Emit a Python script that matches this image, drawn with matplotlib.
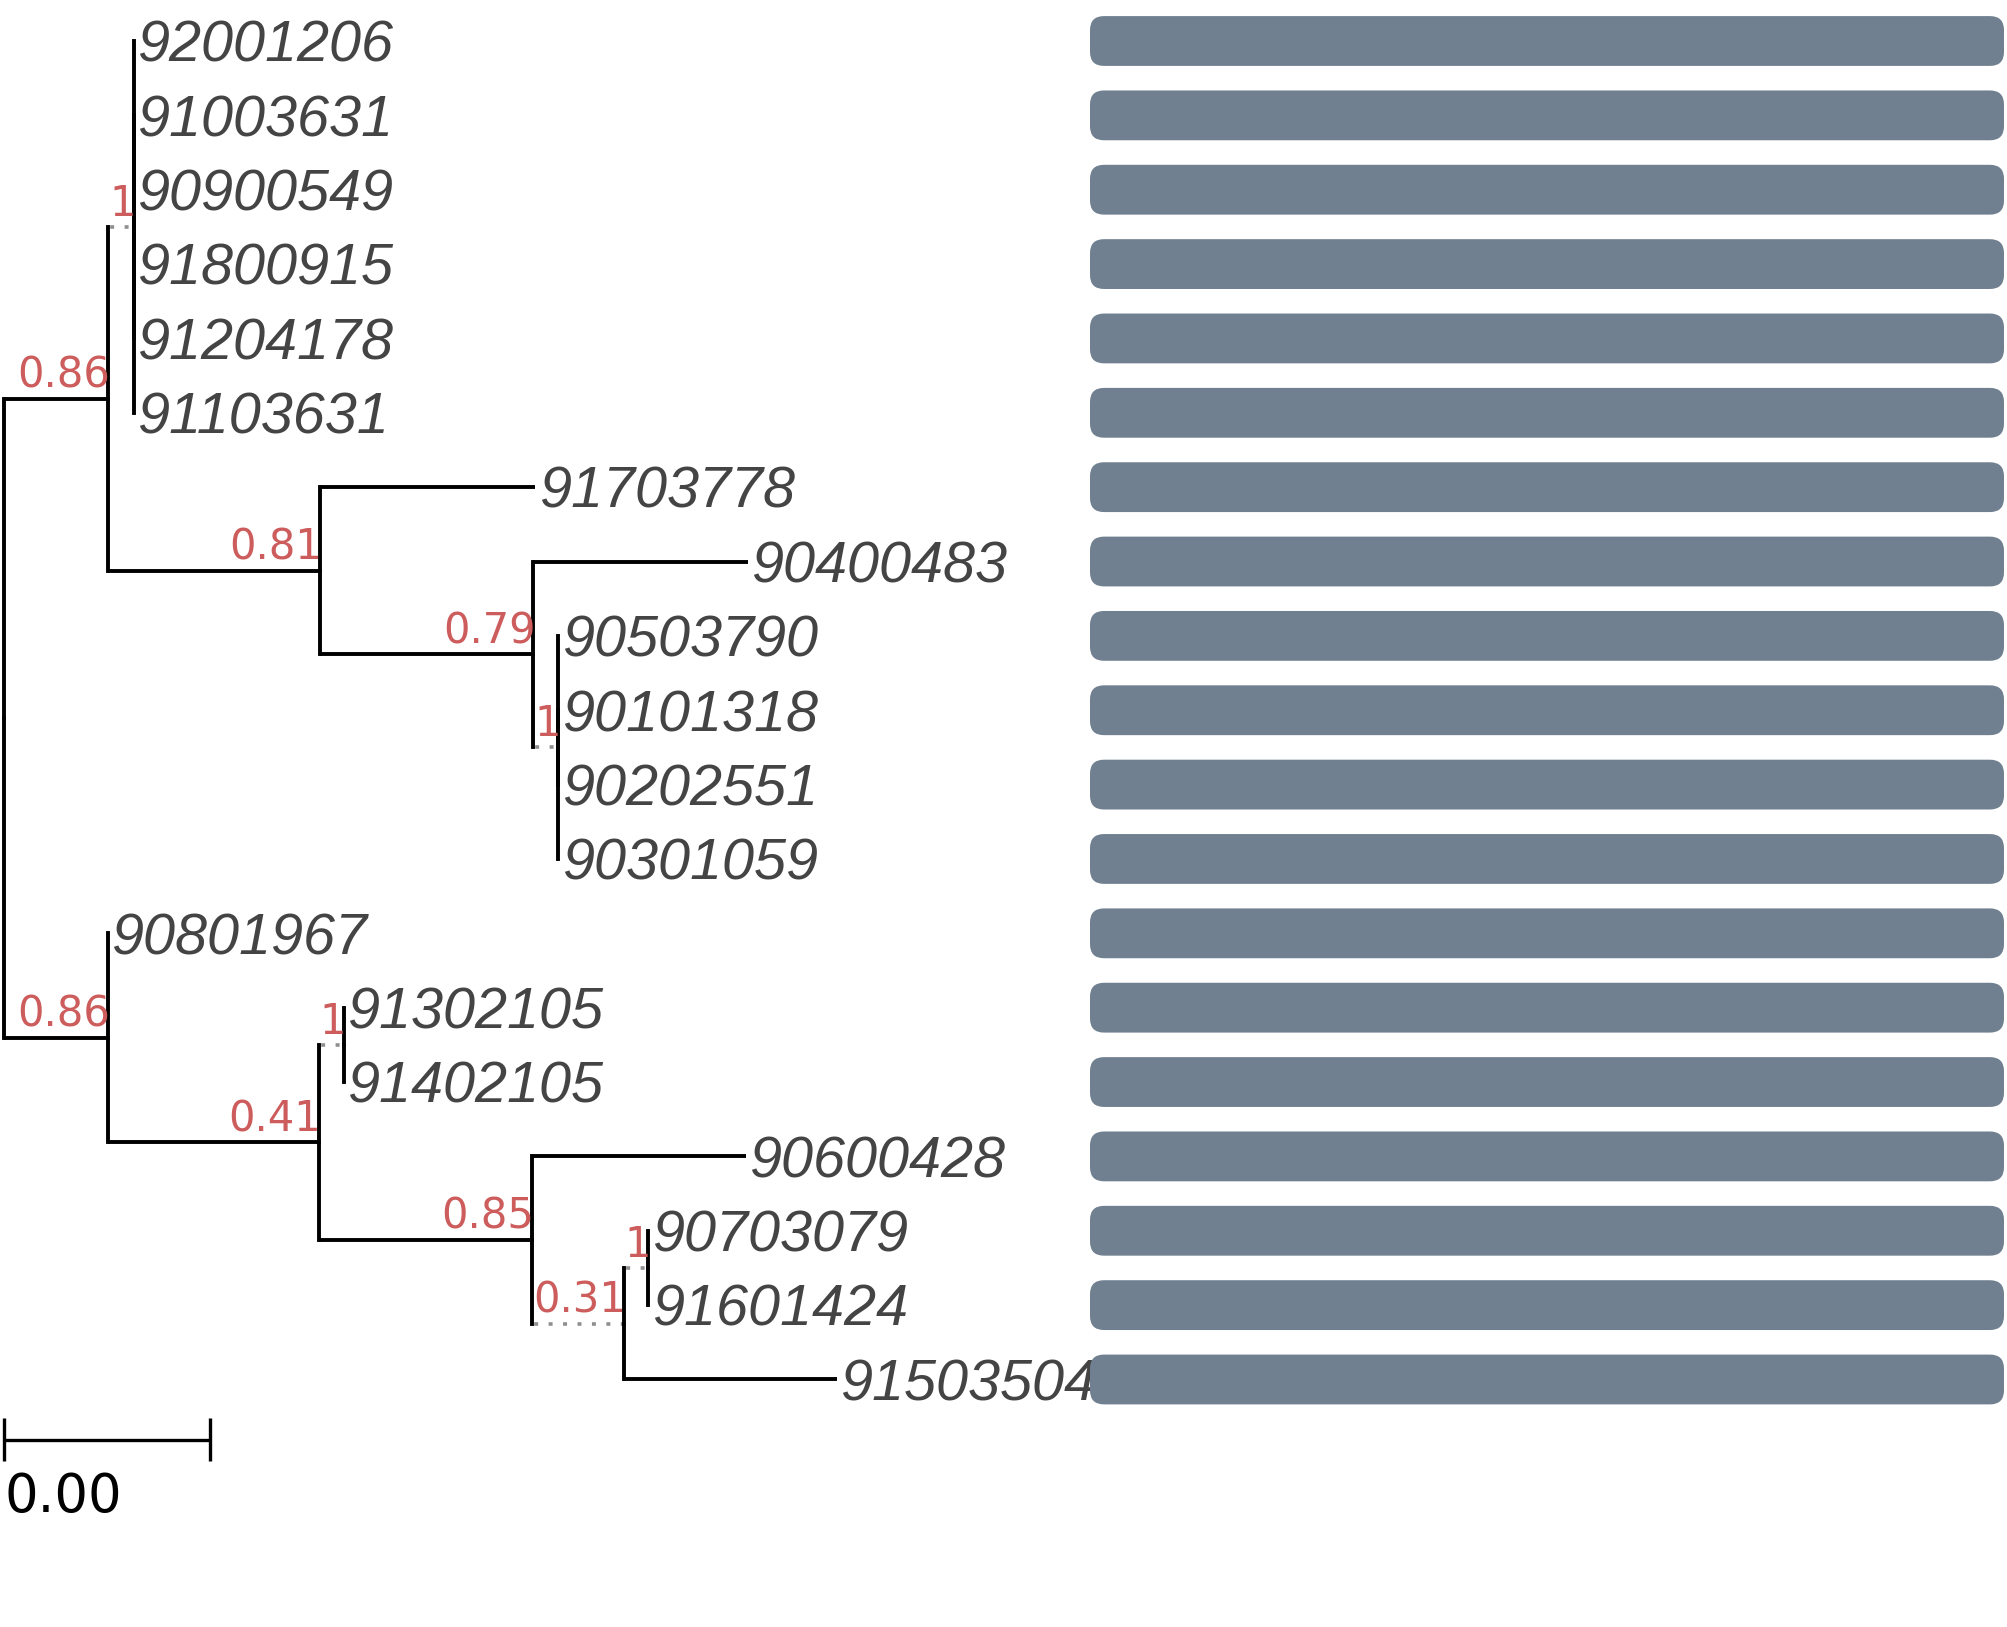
import matplotlib
matplotlib.use("Agg")
import matplotlib.pyplot as plt
from matplotlib.patches import FancyBboxPatch
import numpy as np

# tips, top to bottom
tip_labels = ["92001206", "91003631", "90900549", "91800915", "91204178", "91103631",
              "91703778", "90400483", "90503790", "90101318", "90202551", "90301059",
              "90801967", "91302105", "91402105", "90600428", "90703079", "91601424",
              "91503504"]
tip_parent = ["B", "B", "B", "B", "B", "B", "C", "D", "E", "E", "E", "E",
              "F", "H", "H", "I", "K", "K", "J"]
tip_length = [0, 0, 0, 0, 0, 0, 0.00209, 0.00208, 0, 0, 0, 0,
              0, 0, 0, 0.00207, 0, 0, 0.00206]

# internal nodes
node_names = ["root", "A", "B", "C", "D", "E", "F", "G", "H", "I", "J", "K"]
node_parent = [None, "root", "A", "A", "C", "D", "root", "F", "G", "G", "I", "J"]
node_length = [0, 0.00101, 0.000248, 0.00206, 0.00207, 0.000243,
               0.00101, 0.00205, 0.000238, 0.00207, 0.000893, 0.000233]
node_support = [None, "0.86", "1", "0.81", "0.79", "1",
                "0.86", "0.41", "1", "0.85", "0.31", "1"]
dotted_nodes = ["B", "E", "H", "J", "K"]

bar_values = [1] * len(tip_labels)
scale_width = 0.002

W, H, DPI = 2007, 1627, 100
px_per_unit = 103000.0
root_px = 4
row0_px, row_px = 41, 74.36

tree_col = "black"
tip_col = "#444444"
support_col = "#CD5C5C"
bar_col = "#708090"
dot_col = "#8f8f8f"


def main():
    # positions: x from branch lengths, y from tip order (internal = mean of children)
    x, y, parent = {}, {}, {}
    for n, p, bl in zip(node_names, node_parent, node_length):
        parent[n] = p
        x[n] = bl if p is None else x[p] + bl
    for i, (t, p, bl) in enumerate(zip(tip_labels, tip_parent, tip_length)):
        parent[t] = p
        x[t] = x[p] + bl
        y[t] = i
    children = {n: [c for c in parent if parent[c] == n] for n in node_names}

    def get_y(n):
        if n not in y:
            y[n] = np.mean([get_y(c) for c in children[n]])
        return y[n]
    get_y("root")

    fig = plt.figure(figsize=(W / DPI, H / DPI), dpi=DPI)
    ax = fig.add_axes([0, 0, 1, 1])
    ax.set_xlim(-root_px / px_per_unit, (W - root_px) / px_per_unit)
    ax.set_ylim((H - row0_px) / row_px, -row0_px / row_px)
    ax.axis("off")

    lw = 2.8
    for c, p in parent.items():
        if p is None:
            continue
        ax.plot([x[p], x[p]], [y[p], y[c]], color=tree_col, lw=lw,
                solid_capstyle="projecting", zorder=2)
        if x[c] > x[p]:
            if c in dotted_nodes:
                ax.plot([x[p], x[c]], [y[c], y[c]], color=dot_col, lw=2.6,
                        linestyle=(3.4, (1.1, 2.9)), zorder=1)
            else:
                ax.plot([x[p], x[c]], [y[c], y[c]], color=tree_col, lw=lw,
                        solid_capstyle="butt", zorder=2)

    for t in tip_labels:
        ax.annotate(t, (x[t], y[t]), xytext=(2.5, -15), textcoords="offset points",
                    ha="left", va="baseline", fontsize=41.5, style="italic",
                    family="Liberation Sans", color=tip_col)

    for n, s in zip(node_names, node_support):
        if s is None:
            continue
        ax.annotate(s, (x[n], y[n]), xytext=(1.5, 8), textcoords="offset points",
                    ha="right", va="baseline", fontsize=30, family="DejaVu Sans",
                    color=support_col)

    # scale bar
    sy = len(tip_labels) - 1 + 0.81
    ax.plot([0, scale_width], [sy, sy], color="black", lw=2.4, solid_capstyle="butt")
    for sx in [0, scale_width]:
        ax.plot([sx, sx], [sy - 0.29, sy + 0.29], color="black", lw=2.4,
                solid_capstyle="butt")
    ax.annotate(f"{scale_width:.2f}", (0, sy), xytext=(0, -52), textcoords="offset points",
                ha="left", va="baseline", fontsize=38, family="DejaVu Sans", color="black")

    # bar panel
    bx0, bx1 = 1090, 2004
    ax2 = fig.add_axes([bx0 / W, 0, (bx1 - bx0) / W, 1])
    ax2.set_xlim(0, max(bar_values))
    ax2.set_ylim(ax.get_ylim())
    ax2.axis("off")
    bars = ax2.barh(range(len(bar_values)), bar_values, height=0.67, color=bar_col)
    fig.canvas.draw()
    sx_px = (bx1 - bx0) / max(bar_values)
    r_px = 14
    for rect in bars:
        rect.set_visible(False)
        patch = FancyBboxPatch((rect.get_x(), rect.get_y()), rect.get_width(),
                               rect.get_height(),
                               boxstyle=f"round,pad=0,rounding_size={r_px / sx_px}",
                               mutation_aspect=sx_px / row_px,
                               facecolor=bar_col, edgecolor="none")
        ax2.add_patch(patch)

    fig.savefig("out.png", dpi=DPI, facecolor="white")


if __name__ == "__main__":
    main()
